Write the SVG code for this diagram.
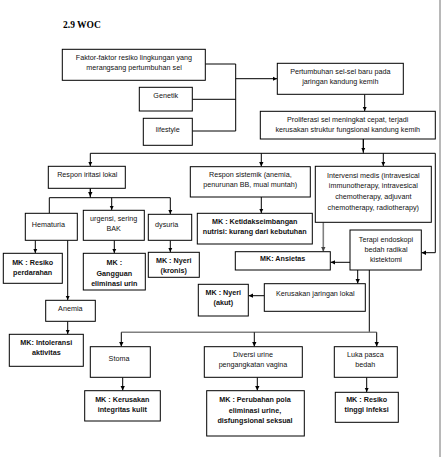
<svg xmlns="http://www.w3.org/2000/svg" width="443" height="457" viewBox="0 0 443 457">
<style>
.b{fill:#fff;stroke:#000;stroke-width:1}
.t{font-family:"Liberation Sans",Arial,sans-serif;font-size:7.2px;fill:#111;text-anchor:middle}
.k{font-weight:bold}
.c{fill:none;stroke:#000;stroke-width:1}
.g{fill:none;stroke:#808080;stroke-width:1.6}
</style>
<defs>
<marker id="a" markerUnits="userSpaceOnUse" markerWidth="5" markerHeight="5" refX="4.5" refY="2.5" orient="auto">
<path d="M0,0.3 L4.5,2.5 L0,4.7 z" fill="#000"/>
</marker>
<marker id="ag" markerUnits="userSpaceOnUse" markerWidth="5" markerHeight="5" refX="4.5" refY="2.5" orient="auto">
<path d="M0,0.3 L4.5,2.5 L0,4.7 z" fill="#444"/>
</marker>
</defs>
<rect width="443" height="457" fill="#fff"/>
<line x1="440" y1="0" x2="440" y2="457" stroke="#a0a0a0" stroke-width="1.5"/>
<text x="63" y="28" font-family="Liberation Serif,serif" font-weight="bold" font-size="9.5">2.9 WOC</text>

<g id="connectors">
<path class="c" d="M205.3,64 H235.7 M192.3,99.3 H235.7 M192.3,131 H235.7 M235.7,64 V131"/>
<path class="c" d="M235.7,78.7 H277" marker-end="url(#a)"/>
<path class="c" d="M364.7,94.3 V111" marker-end="url(#a)"/>
<path class="c" d="M363.3,139 V153.3"/>
<path class="c" d="M363.3,139 V152" marker-end="url(#a)"/>
<path class="c" d="M90.3,153.3 H435.3 V252.7 H421.5" marker-end="url(#a)"/>
<path class="c" d="M90.3,153.3 V166" marker-end="url(#a)"/>
<path class="c" d="M261.3,153.3 V166.4" marker-end="url(#a)"/>
<path class="c" d="M383.3,153.3 V166" marker-end="url(#a)"/>
<path class="c" d="M90.3,188.3 V197.7"/>
<path class="c" d="M90.3,188.3 V196.5" marker-end="url(#a)"/>
<path class="c" d="M49.3,213 V197.7 H170.3 V214" marker-end="url(#a)"/>
<path class="c" d="M111.7,197.7 V210" marker-end="url(#a)"/>
<path class="c" d="M35.3,240.3 V253" marker-end="url(#a)"/>
<path class="c" d="M67.7,240.3 V300" marker-end="url(#a)"/>
<path class="c" d="M67.7,321.3 V334" marker-end="url(#a)"/>
<path class="c" d="M114.3,240.3 V253" marker-end="url(#a)"/>
<path class="c" d="M170.3,240.3 V252" marker-end="url(#a)"/>
<path class="c" d="M261.3,197 V213" marker-end="url(#a)"/>
<path class="g" d="M323.3,222.3 V251.4" marker-end="url(#ag)"/>
<path class="c" d="M350,262.3 H330.6" marker-end="url(#a)"/>
<path class="c" d="M357.7,270 V283.4" marker-end="url(#a)"/>
<path class="c" d="M264.3,295.7 H248.6" marker-end="url(#a)"/>
<path class="c" d="M369.3,270 V332.3"/>
<path class="g" d="M121.3,332.3 H376.7"/>
<path class="c" d="M121.3,332.3 V346.4" marker-end="url(#a)"/>
<path class="c" d="M254.3,332.3 V346.4" marker-end="url(#a)"/>
<path class="c" d="M376.7,332.3 V346.4" marker-end="url(#a)"/>
<path class="c" d="M122.7,377.3 V390.4" marker-end="url(#a)"/>
<path class="c" d="M257.3,377.3 V390.4" marker-end="url(#a)"/>
<path class="c" d="M366.7,377.3 V392" marker-end="url(#a)"/>
</g>

<g id="faktor"><rect class="b" x="62.3" y="49.3" width="143" height="31"/>
<text class="t" x="134" y="60">Faktor-faktor resiko lingkungan yang</text>
<text class="t" x="134" y="70">merangsang pertumbuhan  sel</text></g>
<g id="genetik"><rect class="b" x="139.3" y="87.3" width="53" height="23.7"/>
<text class="t" x="165.7" y="98">Genetik</text></g>
<g id="lifestyle"><rect class="b" x="143.3" y="118.3" width="49" height="27"/>
<text class="t" x="167.7" y="132">lifestyle</text></g>
<g id="pertumbuhan"><rect class="b" x="277.3" y="63.3" width="126" height="31"/>
<text class="t" x="340.3" y="73.7">Pertumbuhan sel-sel baru pada</text>
<text class="t" x="340.3" y="83.7">jaringan kandung kemih</text></g>
<g id="proliferasi"><rect class="b" x="260.3" y="111.3" width="175" height="27.7"/>
<text class="t" x="347.7" y="121.7">Proliferasi sel meningkat cepat,  terjadi</text>
<text class="t" x="347.7" y="132">kerusakan struktur fungsional  kandung kemih</text></g>
<g id="iritasi"><rect class="b" x="48.3" y="166.3" width="77" height="22"/>
<text class="t" x="87.3" y="176.7">Respon  iritasi lokal</text></g>
<g id="hematuria"><rect class="b" x="25.3" y="213.3" width="52" height="27"/>
<text class="t" x="48.3" y="226.7">Hematuria</text></g>
<g id="urgensi"><rect class="b" x="83.3" y="210.3" width="61" height="30"/>
<text class="t" x="113.7" y="221">urgensi,  sering</text>
<text class="t" x="113.7" y="231">BAK</text></g>
<g id="dysuria"><rect class="b" x="148.3" y="214.3" width="43.4" height="26"/>
<text class="t" x="166.7" y="226.7">dysuria</text></g>
<g id="mk-resiko"><rect class="b" x="3.3" y="253.3" width="59" height="30"/>
<text class="t k" x="32.7" y="265">MK : Resiko</text>
<text class="t k" x="32.7" y="275">perdarahan</text></g>
<g id="anemia"><rect class="b" x="45.7" y="300.3" width="49.6" height="21"/>
<text class="t" x="70.3" y="311">Anemia</text></g>
<g id="mk-intoleransi"><rect class="b" x="9.3" y="334.3" width="74" height="32"/>
<text class="t k" x="46.3" y="344.7">MK: Intoleransi</text>
<text class="t k" x="46.3" y="354.7">aktivitas</text></g>
<g id="mk-gangguan"><rect class="b" x="83.3" y="253.3" width="62" height="36.7"/>
<text class="t k" x="114.3" y="265">MK :</text>
<text class="t k" x="114.3" y="275.7">Gangguan</text>
<text class="t k" x="114.3" y="285.7">eliminasi urin</text></g>
<g id="mk-nyeri-kronis"><rect class="b" x="148.3" y="252.3" width="51" height="25"/>
<text class="t k" x="173.7" y="263">MK : Nyeri</text>
<text class="t k" x="173.7" y="272.7">(kronis)</text></g>
<g id="sistemik"><rect class="b" x="190.3" y="166.7" width="120" height="30.3"/>
<text class="t" x="250.3" y="176.7">Respon  sistemik (anemia,</text>
<text class="t" x="250.3" y="186.7">penurunan BB,  mual muntah)</text></g>
<g id="mk-nutrisi"><rect class="b" x="197.3" y="213.3" width="115" height="30.7"/>
<text class="t k" x="254.7" y="223.7">MK : Ketidakseimbangan</text>
<text class="t k" x="254.7" y="233.7">nutrisi: kurang  dari kebutuhan</text></g>
<g id="intervensi"><rect class="b" x="315.3" y="166.3" width="116" height="56"/>
<text class="t" x="373.3" y="177.7">Intervensi medis (intravesical</text>
<text class="t" x="373.3" y="187.7">immunotherapy,  intravesical</text>
<text class="t" x="373.3" y="198.7">chemotherapy,  adjuvant</text>
<text class="t" x="373.3" y="209.7">chemotherapy,  radiotherapy)</text></g>
<g id="mk-ansietas"><rect class="b" x="235.3" y="251.7" width="95" height="18.3"/>
<text class="t k" x="282.7" y="260.7">MK:  Ansietas</text></g>
<g id="terapi"><rect class="b" x="350" y="230" width="71.3" height="40"/>
<text class="t" x="386" y="241.7">Terapi endoskopi</text>
<text class="t" x="386" y="251.7">bedah radikal</text>
<text class="t" x="386" y="261.7">kistektomi</text></g>
<g id="kerusakan-jaringan"><rect class="b" x="264.3" y="283.7" width="101" height="27.6"/>
<text class="t" x="315.3" y="296">Kerusakan jaringan lokal</text></g>
<g id="mk-nyeri-akut"><rect class="b" x="198.3" y="284.3" width="50" height="31.7"/>
<text class="t k" x="223.3" y="295">MK : Nyeri</text>
<text class="t k" x="223.3" y="305">(akut)</text></g>
<g id="stoma"><rect class="b" x="90.3" y="346.7" width="60" height="30.6"/>
<text class="t" x="119" y="360.7">Stoma</text></g>
<g id="mk-kerusakan"><rect class="b" x="84.7" y="390.7" width="75.6" height="30.3"/>
<text class="t k" x="122.3" y="401.7">MK : Kerusakan</text>
<text class="t k" x="122.3" y="411.7">integritas kulit</text></g>
<g id="diversi"><rect class="b" x="204.3" y="346.7" width="98" height="30.6"/>
<text class="t" x="253" y="356.7">Diversi urine</text>
<text class="t" x="253" y="366.7">pengangkatan vagina</text></g>
<g id="mk-perubahan"><rect class="b" x="206.7" y="390.7" width="97.6" height="45.3"/>
<text class="t k" x="255" y="401.7">MK : Perubahan  pola</text>
<text class="t k" x="255" y="412.7">eliminasi urine,</text>
<text class="t k" x="255" y="422.7">disfungsional seksual</text></g>
<g id="luka"><rect class="b" x="334.3" y="346.7" width="63" height="30.6"/>
<text class="t" x="365.3" y="356.7">Luka pasca</text>
<text class="t" x="365.3" y="366.7">bedah</text></g>
<g id="mk-infeksi"><rect class="b" x="335.3" y="392.3" width="63" height="30"/>
<text class="t k" x="366.7" y="401.7">MK : Resiko</text>
<text class="t k" x="366.7" y="411.7">tinggi infeksi</text></g>
</svg>
